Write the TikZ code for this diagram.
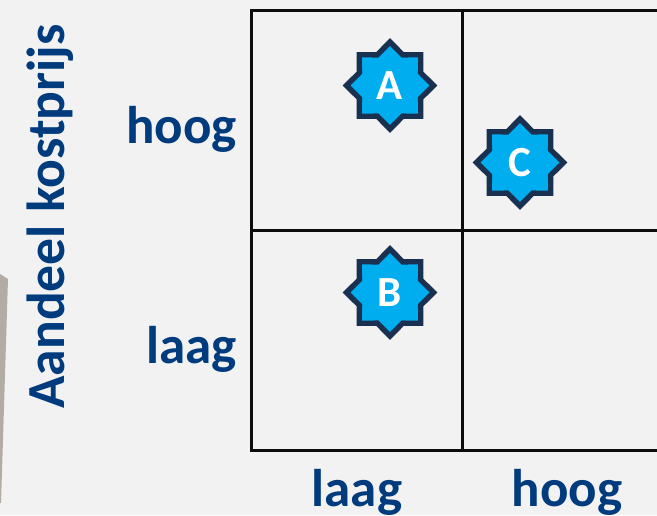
\documentclass[tikz,border=0pt]{standalone}
\usepackage{fontspec}
\setmainfont{Carlito}
\usetikzlibrary{shapes.geometric}
\definecolor{bg}{HTML}{F2F2F2}
\definecolor{navy}{HTML}{003B7D}
\definecolor{starfill}{HTML}{00ADEF}
\definecolor{starline}{HTML}{1A3050}
\definecolor{sliver}{HTML}{B2ACA4}
\tikzset{
  gridline/.style={draw=black!95,line width=3pt},
  axislabel/.style={text=navy,font=\fontsize{53}{53}\selectfont\bfseries,inner sep=0pt},
  titlelabel/.style={axislabel,font=\fontsize{53.6}{54}\selectfont\bfseries},
  badge/.style={shape=star,star points=8,star point ratio=1.31,minimum size=87pt,inner sep=0pt,
    draw=starline,fill=starfill,line width=5.4pt,miter limit=10,text=white,
    font=\fontsize{43}{43}\selectfont\bfseries}
}
\begin{document}
\begin{tikzpicture}[x=1pt,y=-1pt]
\useasboundingbox (0,0) rectangle (657,515);
\fill[bg] (0,0) rectangle (657,515);
\fill[sliver] (0,274) -- (8,279) -- (1,503) -- (0,503) -- cycle;
\draw[gridline] (657,10) -- (251,10) -- (251,450) -- (657,450);
\draw[gridline] (462,10) -- (462,450);
\draw[gridline] (251,230) -- (657,230);
\node[badge] (a) at (390,85.5) {A};
\node[badge] (b) at (390,292.5) {B};
\node[badge] (c) at (520,162.5) {C};
\node[axislabel,anchor=base east] (yhigh) at (237,143) {hoog};
\node[axislabel,anchor=base east] (ylow) at (237,363) {laag};
\node[axislabel,anchor=base] (xlow) at (357,506) {laag};
\node[axislabel,anchor=base] (xhigh) at (567,506) {hoog};
\node[titlelabel,rotate=90,anchor=base] (ytitle) at (64,216.5) {Aandeel kostprijs};
\end{tikzpicture}
\end{document}
